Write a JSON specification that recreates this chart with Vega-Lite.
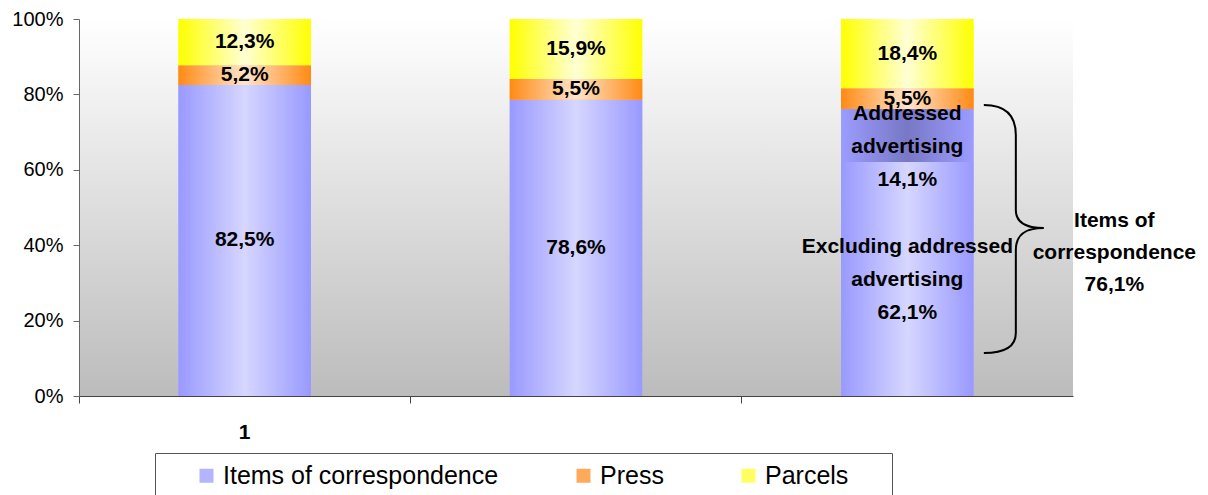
{
  "$schema": "https://vega.github.io/schema/vega-lite/v6.json",
  "width": 994,
  "height": 377,
  "autosize": {"type": "none"},
  "padding": {"left": 79, "top": 19, "right": 135, "bottom": 99},
  "background": "white",
  "config": {
    "view": {"stroke": null, "fill": {"gradient": "linear", "x1": 0, "y1": 0, "x2": 0, "y2": 1, "stops": [{"offset": 0, "color": "#ffffff"}, {"offset": 1, "color": "#bcbcbc"}]}},
    "font": "Liberation Sans"
  },
  "datasets": {
    "seg": [
      {"cat": "1", "series": "Items of correspondence", "part": "corr", "o": 1, "v": 82.5, "label": "82,5%"},
      {"cat": "1", "series": "Press", "part": "press", "o": 2, "v": 5.2, "label": "5,2%"},
      {"cat": "1", "series": "Parcels", "part": "parcels", "o": 3, "v": 12.3, "label": "12,3%"},
      {"cat": "2", "series": "Items of correspondence", "part": "corr", "o": 1, "v": 78.6, "label": "78,6%"},
      {"cat": "2", "series": "Press", "part": "press", "o": 2, "v": 5.5, "label": "5,5%"},
      {"cat": "2", "series": "Parcels", "part": "parcels", "o": 3, "v": 15.9, "label": "15,9%"},
      {"cat": "3", "series": "Items of correspondence", "part": "excl", "o": 1, "v": 62.1, "label": "Excluding addressed\nadvertising\n62,1%"},
      {"cat": "3", "series": "Items of correspondence", "part": "addr", "o": 2, "v": 14.0, "label": "Addressed\nadvertising\n14,1%"},
      {"cat": "3", "series": "Press", "part": "press", "o": 3, "v": 5.5, "label": "5,5%"},
      {"cat": "3", "series": "Parcels", "part": "parcels", "o": 4, "v": 18.4, "label": "18,4%"}
    ],
    "ann": [
      {"cat": "3", "total": 76.1, "label": "Items of\ncorrespondence\n76,1%"}
    ]
  },
  "layer": [
    {
      "data": {"name": "seg"},
      "mark": {"type": "bar"},
      "encoding": {
        "x": {
          "field": "cat", "type": "nominal", "title": null,
          "scale": {"paddingInner": 0.6, "paddingOuter": 0.3},
          "axis": {
            "labelAngle": 0, "bandPosition": -0.75, "tickSize": 7, "tickColor": "#444", "domainColor": "#444",
            "labelExpr": "datum.label == '1' ? '1' : ''",
            "labelFont": "Liberation Sans", "labelFontSize": 21, "labelFontWeight": "bold", "labelColor": "black", "labelPadding": 18
          }
        },
        "y": {
          "field": "v", "type": "quantitative", "stack": "zero", "title": null,
          "scale": {"domain": [0, 100], "nice": false},
          "axis": {
            "values": [0, 20, 40, 60, 80, 100], "labelExpr": "datum.value + '%'", "grid": false,
            "tickSize": 6, "tickColor": "#666", "domainColor": "#666",
            "labelFont": "Liberation Sans", "labelFontSize": 20, "labelColor": "black", "labelPadding": 10
          }
        },
        "color": {
          "field": "series", "type": "nominal",
          "scale": {
            "domain": ["Items of correspondence", "Press", "Parcels"],
            "range": ["#b4b4ff", "#ffaa5a", "#ffff60"]
          },
          "legend": {
            "orient": "none", "legendX": 76, "legendY": 434, "direction": "horizontal",
            "title": " ", "titleOrient": "right", "titleFontSize": 10, "titlePadding": 34,
            "symbolType": "square", "symbolSize": 196, "symbolStrokeWidth": 0, "symbolOffset": 29,
            "labelFont": "Liberation Sans", "labelFontSize": 25, "labelColor": "black", "labelOffset": 4, "labelLimit": 400,
            "columnPadding": 43, "padding": 10, "strokeColor": "#555", "fillColor": "white"
          }
        },
        "detail": {"field": "part"},
        "order": {"field": "o", "type": "quantitative"}
      }
    },
    {
      "data": {"name": "seg"},
      "mark": {"type": "bar", "fill": {"gradient": "linear", "x1": 0, "y1": 0, "x2": 1, "y2": 0, "stops": [{"offset": 0, "color": "#9999ff"}, {"offset": 0.5, "color": "#d6d6ff"}, {"offset": 1, "color": "#9999ff"}]}},
      "encoding": {
        "x": {"field": "cat", "type": "nominal"},
        "y": {"field": "v", "type": "quantitative", "stack": "zero"},
        "detail": {"field": "part"},
        "order": {"field": "o", "type": "quantitative"},
        "opacity": {"condition": {"test": "datum.part === 'corr' || datum.part === 'excl'", "value": 1}, "value": 0}
      }
    },
    {
      "data": {"name": "seg"},
      "mark": {"type": "bar", "fill": {"gradient": "linear", "x1": 0, "y1": 0, "x2": 1, "y2": 0, "stops": [{"offset": 0, "color": "#ff8a14"}, {"offset": 0.5, "color": "#ffe4cc"}, {"offset": 1, "color": "#ff8a14"}]}},
      "encoding": {
        "x": {"field": "cat", "type": "nominal"},
        "y": {"field": "v", "type": "quantitative", "stack": "zero"},
        "detail": {"field": "part"},
        "order": {"field": "o", "type": "quantitative"},
        "opacity": {"condition": {"test": "datum.part === 'press'", "value": 1}, "value": 0}
      }
    },
    {
      "data": {"name": "seg"},
      "mark": {"type": "bar", "fill": {"gradient": "linear", "x1": 0, "y1": 0, "x2": 1, "y2": 0, "stops": [{"offset": 0, "color": "#ffff00"}, {"offset": 0.5, "color": "#ffffd4"}, {"offset": 1, "color": "#ffff00"}]}},
      "encoding": {
        "x": {"field": "cat", "type": "nominal"},
        "y": {"field": "v", "type": "quantitative", "stack": "zero"},
        "detail": {"field": "part"},
        "order": {"field": "o", "type": "quantitative"},
        "opacity": {"condition": {"test": "datum.part === 'parcels'", "value": 1}, "value": 0}
      }
    },
    {
      "data": {"name": "seg"},
      "mark": {"type": "bar", "fill": {"gradient": "linear", "x1": 0, "y1": 0, "x2": 1, "y2": 0, "stops": [{"offset": 0, "color": "#9c9cff"}, {"offset": 0.5, "color": "#7878c6"}, {"offset": 1, "color": "#9c9cff"}]}},
      "encoding": {
        "x": {"field": "cat", "type": "nominal"},
        "y": {"field": "v", "type": "quantitative", "stack": "zero"},
        "detail": {"field": "part"},
        "order": {"field": "o", "type": "quantitative"},
        "opacity": {"condition": {"test": "datum.part === 'addr'", "value": 1}, "value": 0}
      }
    },
    {
      "data": {"name": "seg"},
      "mark": {"type": "text", "font": "Liberation Sans", "fontWeight": "bold", "fontSize": 21, "lineBreak": "\n", "lineHeight": 33, "baseline": "middle", "align": "center", "color": "black"},
      "encoding": {
        "x": {"field": "cat", "type": "nominal"},
        "y": {"field": "v", "type": "quantitative", "stack": "zero", "bandPosition": 0.5},
        "detail": {"field": "part"},
        "order": {"field": "o", "type": "quantitative"},
        "text": {"condition": {"test": "datum.part === 'addr' || datum.part === 'excl'", "value": ""}, "field": "label"}
      }
    },
    {
      "data": {"name": "seg"},
      "mark": {"type": "text", "font": "Liberation Sans", "fontWeight": "bold", "fontSize": 21, "lineBreak": "\n", "lineHeight": 33, "baseline": "middle", "align": "center", "color": "black", "dy": -32},
      "encoding": {
        "x": {"field": "cat", "type": "nominal"},
        "y": {"field": "v", "type": "quantitative", "stack": "zero", "bandPosition": 0.5},
        "detail": {"field": "part"},
        "order": {"field": "o", "type": "quantitative"},
        "text": {"condition": {"test": "datum.part === 'excl'", "field": "label"}, "value": ""}
      }
    },
    {
      "data": {"name": "seg"},
      "mark": {"type": "text", "font": "Liberation Sans", "fontWeight": "bold", "fontSize": 21, "lineBreak": "\n", "lineHeight": 33, "baseline": "middle", "align": "center", "color": "black", "dy": -21},
      "encoding": {
        "x": {"field": "cat", "type": "nominal"},
        "y": {"field": "v", "type": "quantitative", "stack": "zero", "bandPosition": 0.5},
        "detail": {"field": "part"},
        "order": {"field": "o", "type": "quantitative"},
        "text": {"condition": {"test": "datum.part === 'addr'", "field": "label"}, "value": ""}
      }
    },
    {
      "data": {"name": "ann"},
      "mark": {"type": "text", "font": "Liberation Sans", "fontWeight": "bold", "fontSize": 21, "lineBreak": "\n", "lineHeight": 32, "baseline": "middle", "align": "center", "color": "black", "dx": 207, "dy": -32},
      "encoding": {
        "x": {"field": "cat", "type": "nominal"},
        "y": {"field": "total", "type": "quantitative", "stack": "zero", "bandPosition": 0.5},
        "text": {"field": "label"}
      }
    },
    {
      "data": {"name": "ann"},
      "mark": {"type": "point", "filled": false, "stroke": "black", "strokeWidth": 2, "opacity": 1, "size": 40000,
        "shape": "M0.765,-1.475 C0.97,-1.475 1.085,-1.38 1.085,-1.175 L1.085,-0.425 C1.085,-0.3 1.19,-0.245 1.365,-0.245 C1.19,-0.245 1.085,-0.19 1.085,-0.025 L1.085,0.805 C1.085,0.95 0.97,1.005 0.765,1.005"},
      "encoding": {
        "x": {"field": "cat", "type": "nominal"},
        "y": {"field": "total", "type": "quantitative", "stack": "zero", "bandPosition": 0.5}
      }
    }
  ]
}
